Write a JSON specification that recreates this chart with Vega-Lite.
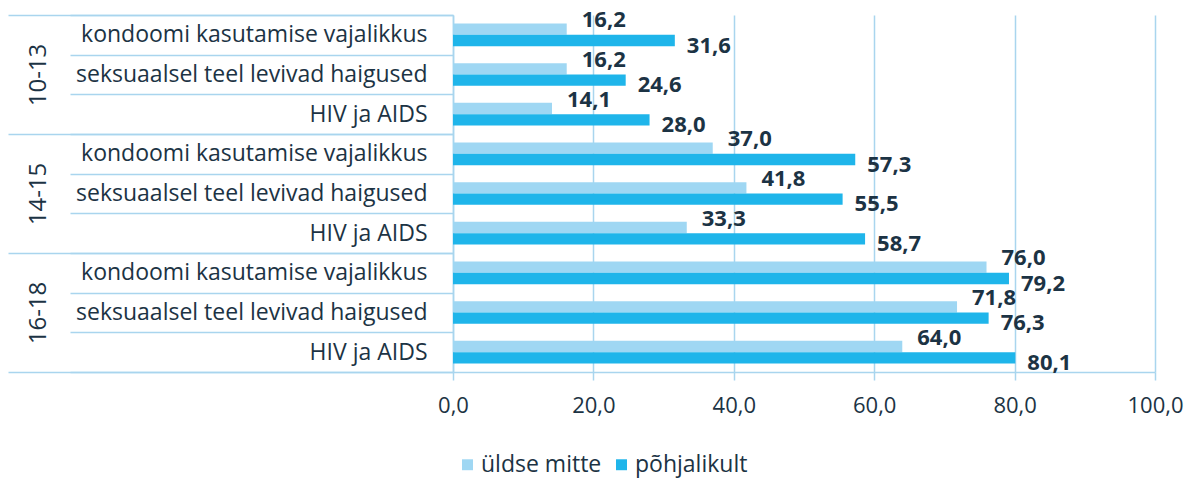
{
  "$schema": "https://vega.github.io/schema/vega-lite/v6.json",
  "width": 702,
  "height": 357,
  "autosize": {"type": "none"},
  "padding": {"left": 453, "top": 15, "right": 32, "bottom": 108},
  "background": "white",
  "config": {"view": {"stroke": null}, "font": "Open Sans"},
  "data": {
    "values": [
      {"group": "10-13", "topic": "kondoomi kasutamise vajalikkus", "series": "üldse mitte", "value": 16.2},
      {"group": "10-13", "topic": "kondoomi kasutamise vajalikkus", "series": "põhjalikult", "value": 31.6},
      {"group": "10-13", "topic": "seksuaalsel teel levivad haigused", "series": "üldse mitte", "value": 16.2},
      {"group": "10-13", "topic": "seksuaalsel teel levivad haigused", "series": "põhjalikult", "value": 24.6},
      {"group": "10-13", "topic": "HIV ja AIDS", "series": "üldse mitte", "value": 14.1},
      {"group": "10-13", "topic": "HIV ja AIDS", "series": "põhjalikult", "value": 28.0},
      {"group": "14-15", "topic": "kondoomi kasutamise vajalikkus", "series": "üldse mitte", "value": 37.0},
      {"group": "14-15", "topic": "kondoomi kasutamise vajalikkus", "series": "põhjalikult", "value": 57.3},
      {"group": "14-15", "topic": "seksuaalsel teel levivad haigused", "series": "üldse mitte", "value": 41.8},
      {"group": "14-15", "topic": "seksuaalsel teel levivad haigused", "series": "põhjalikult", "value": 55.5},
      {"group": "14-15", "topic": "HIV ja AIDS", "series": "üldse mitte", "value": 33.3},
      {"group": "14-15", "topic": "HIV ja AIDS", "series": "põhjalikult", "value": 58.7},
      {"group": "16-18", "topic": "kondoomi kasutamise vajalikkus", "series": "üldse mitte", "value": 76.0},
      {"group": "16-18", "topic": "kondoomi kasutamise vajalikkus", "series": "põhjalikult", "value": 79.2},
      {"group": "16-18", "topic": "seksuaalsel teel levivad haigused", "series": "üldse mitte", "value": 71.8},
      {"group": "16-18", "topic": "seksuaalsel teel levivad haigused", "series": "põhjalikult", "value": 76.3},
      {"group": "16-18", "topic": "HIV ja AIDS", "series": "üldse mitte", "value": 64.0},
      {"group": "16-18", "topic": "HIV ja AIDS", "series": "põhjalikult", "value": 80.1}
    ]
  },
  "transform": [
    {"calculate": "datum.group + '|' + datum.topic", "as": "row"},
    {"calculate": "replace(format(datum.value, '.1f'), '.', ',')", "as": "lbl"}
  ],
  "layer": [
    {
      "encoding": {
        "y": {
          "field": "row", "type": "nominal", "sort": null,
          "scale": {"paddingInner": 0, "paddingOuter": 0},
          "axis": {
            "title": null, "tickBand": "extent", "tickSize": 383, "tickColor": "#a9d5ee", "tickWidth": 1.5,
            "domainColor": "#a9d5ee", "domainWidth": 1.5, "grid": false,
            "labelPadding": -357, "labelExpr": "split(datum.label, '|')[1]",
            "labelFontSize": 23, "labelColor": "#1c3344", "labelFont": "Open Sans", "labelLimit": 0
          }
        },
        "x": {
          "field": "value", "type": "quantitative",
          "scale": {"domain": [0, 100]},
          "axis": {
            "title": null, "values": [0, 20, 40, 60, 80, 100], "grid": true,
            "gridColor": "#a9d5ee", "gridWidth": 1.5, "domainColor": "#a9d5ee", "domainWidth": 1.5,
            "tickColor": "#a9d5ee", "tickSize": 8, "tickWidth": 1.5, "labelFlush": false,
            "labelExpr": "replace(format(datum.value, '.1f'), '.', ',')",
            "labelFontSize": 22, "labelColor": "#1c3344", "labelPadding": 15, "labelFont": "Open Sans"
          }
        },
        "yOffset": {
          "field": "series", "type": "nominal", "sort": ["üldse mitte", "põhjalikult"],
          "scale": {"paddingInner": 0, "paddingOuter": 0.75}
        }
      },
      "layer": [
        {
          "mark": {"type": "bar"},
          "encoding": {
            "color": {
              "field": "series", "type": "nominal",
              "scale": {"domain": ["üldse mitte", "põhjalikult"], "range": ["#9fd7f3", "#1fb5ea"]},
              "legend": {
                "orient": "none", "legendX": 3, "legendY": 438, "direction": "horizontal", "title": null,
                "symbolType": "square", "symbolSize": 120, "symbolStrokeWidth": 0,
                "labelFontSize": 23, "labelColor": "#1c3344", "labelFont": "Open Sans",
                "columnPadding": 8, "labelOffset": 2
              }
            }
          }
        },
        {
          "transform": [{"filter": "datum.series == 'üldse mitte'"}],
          "mark": {"type": "text", "align": "left", "baseline": "middle", "dx": 15, "dy": -9,
                   "fontSize": 22, "fontWeight": "bold", "font": "Open Sans", "color": "#1c3344"},
          "encoding": {"text": {"field": "lbl", "type": "nominal"}}
        },
        {
          "transform": [{"filter": "datum.series == 'põhjalikult'"}],
          "mark": {"type": "text", "align": "left", "baseline": "middle", "dx": 12, "dy": 5,
                   "fontSize": 22, "fontWeight": "bold", "font": "Open Sans", "color": "#1c3344"},
          "encoding": {"text": {"field": "lbl", "type": "nominal"}}
        }
      ]
    },
    {
      "mark": {"type": "tick", "opacity": 0},
      "encoding": {
        "y": {
          "field": "group", "type": "nominal", "sort": null,
          "scale": {"type": "band", "paddingInner": 0, "paddingOuter": 0},
          "axis": {
            "orient": "left", "title": null, "domain": false, "grid": false,
            "tickBand": "extent", "tickSize": 445, "tickColor": "#a9d5ee", "tickWidth": 1.5,
            "labelAngle": 270, "labelAlign": "center", "labelBaseline": "middle",
            "labelPadding": -30, "labelFontSize": 24, "labelColor": "#1c3344", "labelFont": "Open Sans"
          }
        }
      }
    }
  ],
  "resolve": {"scale": {"y": "independent"}, "axis": {"y": "independent"}}
}
